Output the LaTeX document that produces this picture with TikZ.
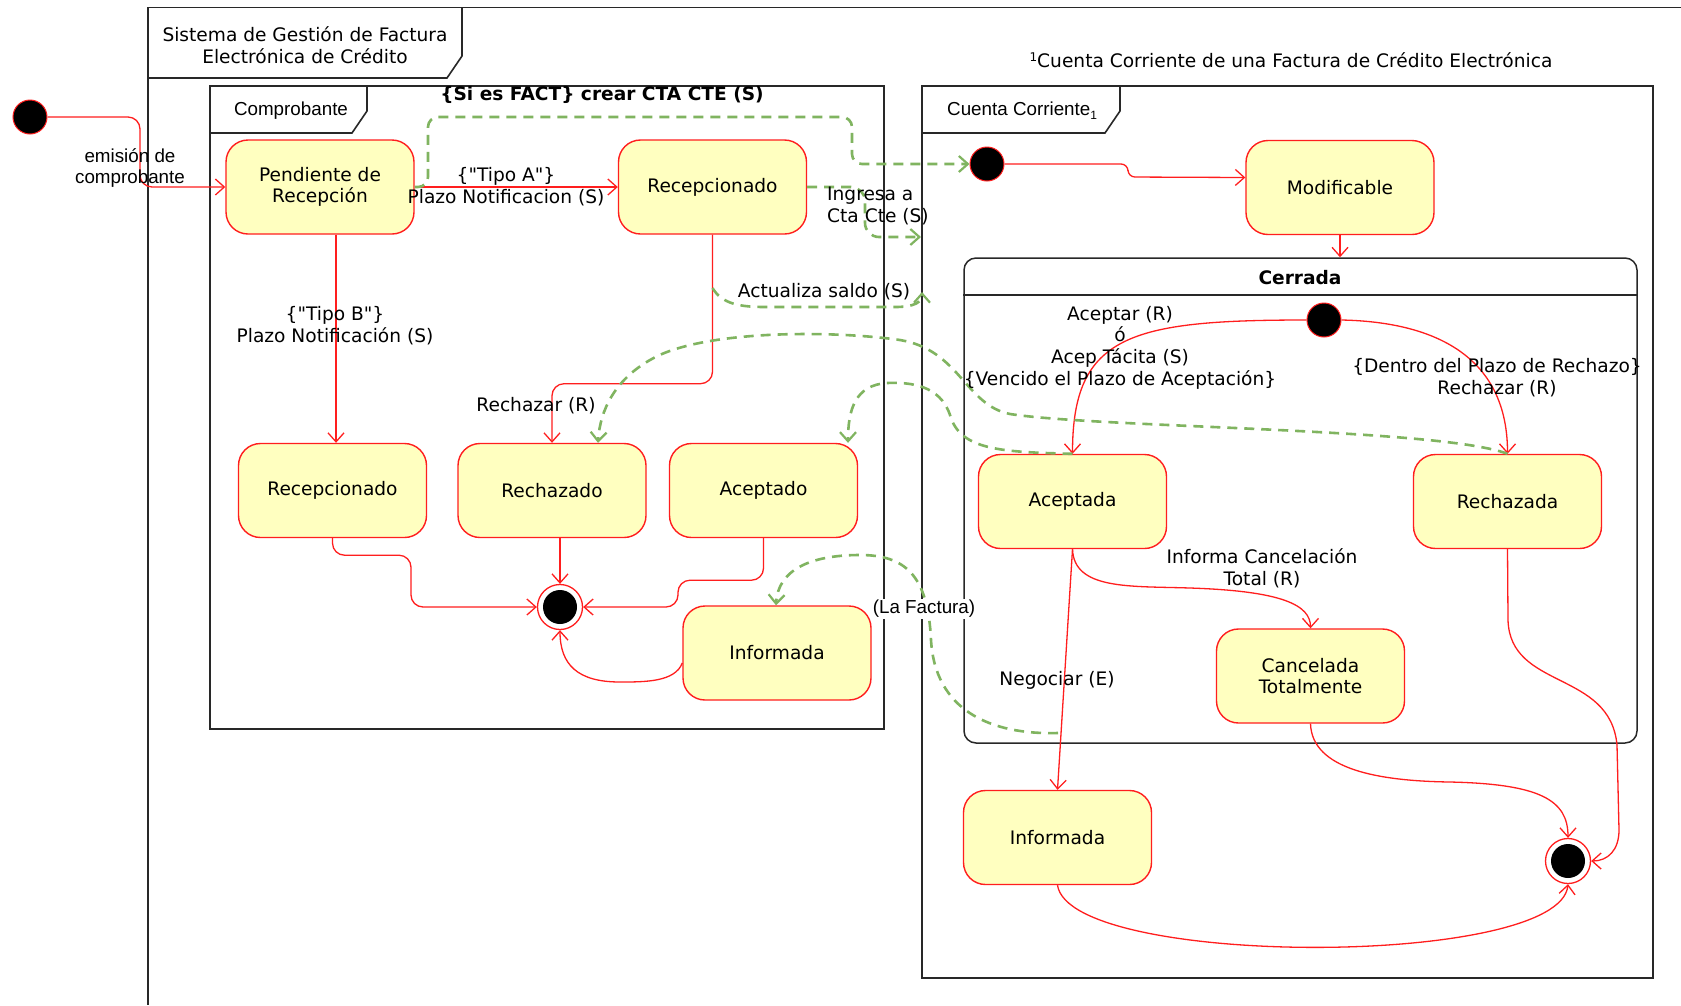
\documentclass[tikz,border=0pt]{standalone}
\usepackage{fontspec}
\setmainfont{DejaVu Sans}
\newfontfamily\arialf{Liberation Sans}
\usetikzlibrary{arrows.meta,calc}
\definecolor{tred}{RGB}{255,30,30}
\definecolor{tgreen}{RGB}{128,180,96}
\definecolor{sfill}{RGB}{255,255,192}
\definecolor{fline}{RGB}{40,40,40}
\newcommand{\dq}{\textquotedbl}
\begin{document}
\begin{tikzpicture}[x=1pt,y=-1pt,
  lbl/.style={font=\fontsize{18.6}{21.7}\selectfont, inner sep=0pt, align=center},
  blbl/.style={font=\bfseries\fontsize{18.6}{21.7}\selectfont, inner sep=0pt, align=center},
  albl/.style={font=\arialf\fontsize{18.8}{21.5}\selectfont, inner sep=0pt, align=center},
  stt/.style={draw=tred, fill=sfill, line width=1.4pt, rounded corners=22pt, minimum width=188pt, minimum height=94pt, align=center, inner sep=0pt, font=\fontsize{18.6}{21.7}\selectfont},
  initst/.style={circle, draw=tred, fill=black, line width=1pt, minimum size=34pt, inner sep=0pt},
  finalst/.style={circle, draw=tred, fill=white, line width=1.3pt, minimum size=45pt, inner sep=0pt, path picture={\fill[black] (path picture bounding box.center) circle[radius=17pt];}},
  frm/.style={draw=fline, line width=1.6pt},
  tr/.style={draw=tred, line width=1.3pt, -{Straight Barb[length=9pt,width=16pt,line width=1.3pt]}},
  gtr/.style={draw=tgreen, line width=2.6pt, dash pattern=on 10pt off 7pt, -{Straight Barb[length=9pt,width=16pt,line width=2.2pt]}},
]
\useasboundingbox (0,0) rectangle (1681,1005);
\fill[white] (0,0) rectangle (1681,1005);

% frames
\draw[frm] (1681,7.5) -- (148,7.5) -- (148,1005);
\draw[frm] (148,78) -- (447,78) -- (462,56) -- (462,7.5);
\node[lbl] (title) at (305,45) {Sistema de Gestión de Factura\\Electrónica de Crédito};

\draw[frm] (210,86) rectangle (884,729);
\draw[frm] (210,133) -- (352,133) -- (367,111) -- (367,86);
\node[albl] (comptxt) at (291,111) {Comprobante};

\draw[frm] (922,86) rectangle (1653,978);
\draw[frm] (922,133) -- (1105,133) -- (1120,111) -- (1120,86);
\node[albl, anchor=west] (cctxt) at (947,111) {Cuenta Corriente\raisebox{-4pt}{\fontsize{12}{12}\selectfont 1}};
\node[lbl] (cctitle) at (1291,60) {\raisebox{6pt}{\fontsize{12}{12}\selectfont 1}Cuenta Corriente de una Factura de Crédito Electrónica};

% left states
\node[initst] (i1) at (30,117) {};
\node[stt] (pend) at (320,187) {Pendiente de\\Recepción};
\node[stt] (recA) at (712.5,187) {Recepcionado};
\node[stt] (recB) at (332.5,490.5) {Recepcionado};
\node[stt] (rechz) at (552,490.5) {Rechazado};
\node[stt] (acep) at (763.5,490.5) {Aceptado};
\node[stt] (infL) at (777,653) {Informada};
\node[finalst] (f1) at (560,607) {};

% right states
\node[initst] (i2) at (987,164) {};
\node[stt] (modif) at (1340,187.5) {Modificable};
\node[draw=fline, line width=1.5pt, rounded corners=12pt, minimum width=673pt, minimum height=485pt, inner sep=0pt] (cerr) at (1300.5,500.5) {};
\draw[fline, line width=1.5pt] (cerr.west |- 0,295) -- (cerr.east |- 0,295);
\node[blbl] (cerrtxt) at (1300,278) {Cerrada};
\node[initst] (i3) at (1324,320) {};
\node[stt] (acepda) at (1072.5,501.5) {Aceptada};
\node[stt] (rechda) at (1507.5,501.5) {Rechazada};
\node[stt] (canc) at (1310.5,676) {Cancelada\\Totalmente};
\node[stt] (infR) at (1057.5,837.5) {Informada};
\node[finalst] (f2) at (1568,861) {};

% red transitions left
\draw[tr, rounded corners=12pt] (i1.east) -- (140,117) -- (140,187) -- (pend.west);
\draw[tr] (pend.east) -- (recA.west);
\draw[tr] ([xshift=16pt]pend.south) -- ([xshift=3.5pt]recB.north);
\draw[tr, rounded corners=12pt] (recA.south) -- ++(0,149) -| (rechz.north);
\draw[tr, rounded corners=12pt] (recB.south) -- ++(0,17) -| (411,607) -- (f1.west);
\draw[tr] (f1 |- rechz.south) -- (f1.north);
\draw[tr, rounded corners=12pt] (acep.south) -- ++(0,42) -| (678,607) -- (f1.east);
\draw[tr] ([yshift=-10pt]infL.west) .. controls (675,682) and (645,682) .. (620,682) .. controls (578,682) and (560,665) .. (f1.south);

% red transitions right
\draw[tr, rounded corners=7pt] (i2.east) -- (1128,164) -- (1128,177) -- ([yshift=10pt]modif.west);
\draw[tr] (modif.south) -- (modif.south |- cerr.north);
\draw[tr] (i3.west) .. controls (1130,320) and (1072.5,335) .. (acepda.north);
\draw[tr] (i3.east) .. controls (1440,322) and (1507.5,360) .. (rechda.north);
\draw[tr] (acepda.south) .. controls (1074,590) and (1130,586) .. (1190,588) .. controls (1282,591) and (1310.5,605) .. (canc.north);
\draw[tr] (acepda.south) -- (infR.north);
\draw[tr] (canc.south) .. controls (1312,770) and (1380,781) .. (1450,782) .. controls (1540,784) and (1568,800) .. (f2.north);
\draw[tr] (rechda.south) -- (1508,620) .. controls (1510,690) and (1610,670) .. (1617,745) -- (1619,830) .. controls (1619,850) and (1608,861) .. (f2.east);
\draw[tr] (infR.south) .. controls (1070,968) and (1560,968) .. (f2.south);

% green dashed
\draw[gtr, rounded corners=10pt] (pend.east) -| (428,117) -| (852,164) -- (i2.west);
\coordinate (g2end) at (921,237);
\draw[gtr, rounded corners=14pt] (recA.east) -| (865,237) -- (g2end);
\coordinate (g3s) at (712.5,288);
\coordinate (g3e) at (922,292);
\draw[gtr] (g3s) .. controls (722,304) and (740,307) .. (765,307) -- (895,307) .. controls (915,307) and (922,302) .. (g3e);
\draw[gtr] (rechda.north) .. controls (1440,428) and (1100,428) .. (1010,414) .. controls (965,405) and (960,350) .. (900,340) .. controls (830,330) and (700,330) .. (650,360) .. controls (615,380) and (600,410) .. ([xshift=46pt]rechz.north);
\draw[gtr] (acepda.north) .. controls (1000,452) and (960,450) .. (950,415) .. controls (940,385) and (910,382) .. (887,383) .. controls (855,385) and (848,410) .. ([xshift=84.5pt]acep.north);
\coordinate (g6s) at (1058,733);
\draw[gtr] (g6s) .. controls (990,735) and (935,710) .. (931,640) .. controls (928,575) and (905,555) .. (860,555) .. controls (810,555) and (778,570) .. ([xshift=-1pt]infL.north);

% labels
\node[albl] (l1) at (130,168) {emisión de\\comprobante};
\node[lbl] (l2) at (506,186.5) {\{\dq Tipo A\dq\}\\Plazo Notificacion (S)};
\node[lbl] (l3) at (335,326) {\{\dq Tipo B\dq\}\\Plazo Notificación (S)};
\node[lbl] (l4) at (536,406) {Rechazar (R)};
\node[blbl] (l5) at (602,95) {\{Si es FACT\} crear CTA CTE (S)};
\node[lbl, align=left, anchor=west] (l6) at (827,206) {Ingresa a\\Cta Cte (S)};
\node[lbl] (l7) at (824,292) {Actualiza saldo (S)};
\node[lbl] (l8) at (1120,347.5) {Aceptar (R)\\ó\\Acep Tácita (S)\\\{Vencido el Plazo de Aceptación\}};
\node[lbl] (l9) at (1497,377.5) {\{Dentro del Plazo de Rechazo\}\\Rechazar (R)};
\node[lbl] (l10) at (1262,568) {Informa Cancelación\\Total (R)};
\node[lbl] (l11) at (1057,680) {Negociar (E)};
\node[albl, fill=white, inner sep=1.5pt] (l12) at (924,609) {(La Factura)};
\end{tikzpicture}
\end{document}
